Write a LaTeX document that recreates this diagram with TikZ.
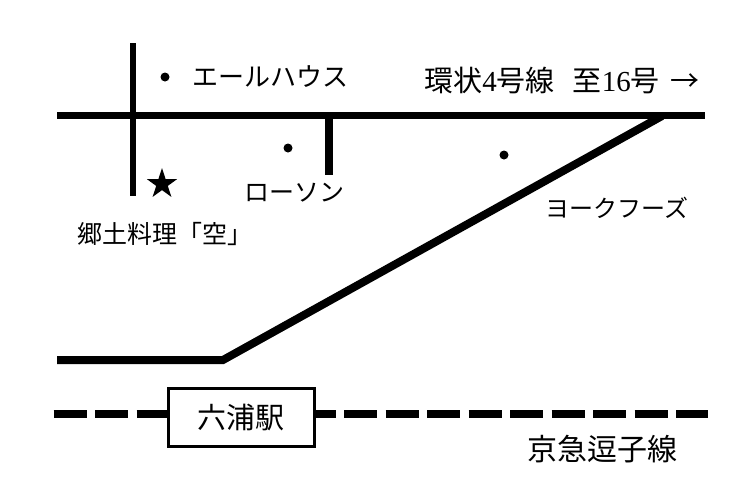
\documentclass[tikz,border=0pt]{standalone}
\usepackage{fontspec}
\setmainfont{Liberation Serif}
\newfontfamily\jp{Noto Sans CJK JP}
\newcommand{\jpsize}[1]{\fontsize{#1}{#1}\selectfont}
\usetikzlibrary{shapes.geometric}

\begin{document}
\begin{tikzpicture}[x=1pt,y=-1pt,
  road/.style={line width=7pt},
  dot/.style={shape=circle,fill=black,inner sep=0pt,minimum size=9pt},
  place/.style={inner sep=0pt}]
\useasboundingbox (0,0) rectangle (753,493);
% roads
\coordinate (M1) at (57,115);
\coordinate (M2) at (705,115);
\coordinate (V1) at (133,43);
\coordinate (V2) at (133,196);
\coordinate (V3) at (329,115);
\coordinate (V4) at (329,175);
\coordinate (B1) at (57,360);
\coordinate (B2) at (223,360);
\coordinate (B3) at (662,116);
\draw[road] (M1) -- (M2);
\draw[road,line width=6pt] (V1) -- (V2);
\draw[road,line width=8pt] (V3) -- (V4);
\draw[road,line width=8pt] (B1) -- (B2) -- (B3);
% railway
\coordinate (W) at (53.5,414);
\coordinate (X) at (708,414);
\draw[line width=8pt,dash pattern=on 33pt off 8.5pt] (W) -- (X);
\node[draw=black,line width=3pt,fill=white,minimum width=146pt,minimum height=58pt,inner sep=0pt,font=\jp\jpsize{29}] (R) at (241,417.5) {六浦駅};
% places
\node[dot] (A) at (165,77) {};
\node[dot] (B) at (288,148) {};
\node[dot] (C) at (504,155) {};
\node[shape=star,star points=5,star point ratio=2.618,fill=black,inner sep=0pt,minimum size=32pt] (S) at (162,184) {};
\node[place,font=\jp\jpsize{26}] (E) at (270,77) {エールハウス};
\node[place,font=\jp\jpsize{25}] (L) at (294,193) {ローソン};
\node[place,font=\jp\jpsize{24}] (Y) at (617,208) {ヨークフーズ};
\node[place,font=\jp\jpsize{25}] (K) at (165,234) {郷土料理「空」};
\node[place,font=\jpsize{29}] (N) at (562,80) {{\jp 環状}4{\jp 号線}\hspace{18pt}{\jp 至}16{\jp 号}\hspace{11pt}{\jp →}};
\node[place,font=\jp\jpsize{30}] (T) at (602,449) {京急逗子線};
\end{tikzpicture}
\end{document}
